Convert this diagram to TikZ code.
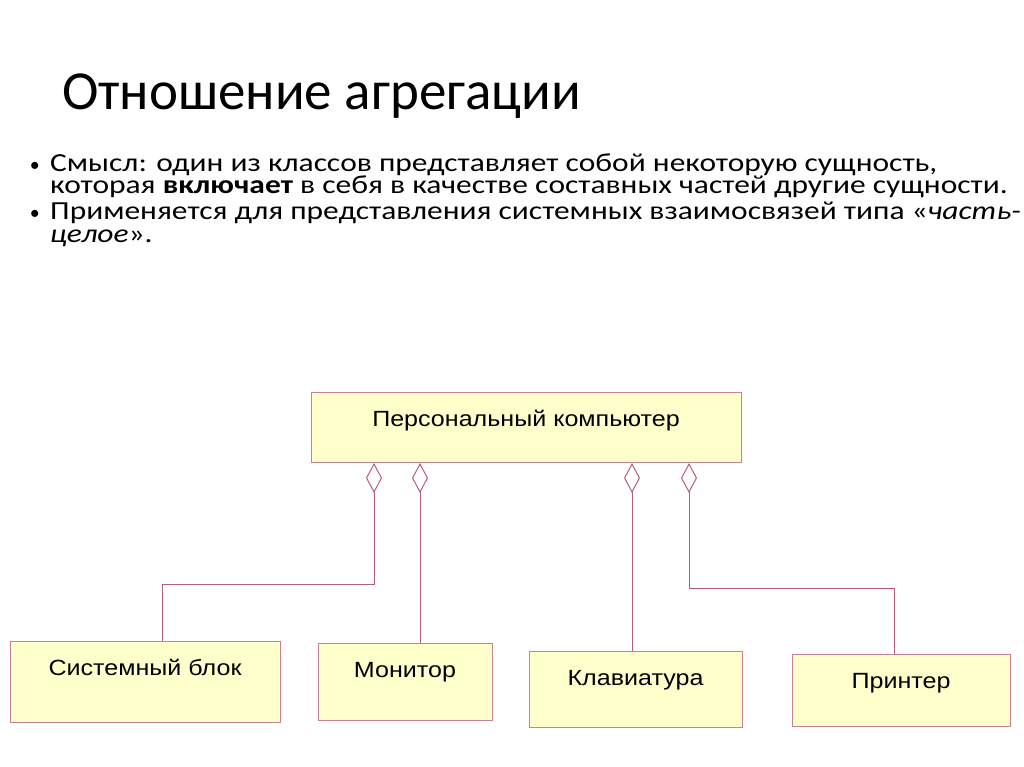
\documentclass[tikz,border=0pt]{standalone}
\usepackage{fontspec}
\setmainfont{Carlito}
\newfontfamily\bodyfont[FakeStretch=1.21]{Carlito}
\newfontfamily\boxfont[FakeStretch=1.14]{Liberation Sans}
\usepackage{tikz}
\usetikzlibrary{arrows.meta,positioning}
\definecolor{boxfill}{RGB}{255,255,204}
\definecolor{boxline}{RGB}{200,130,150}
\definecolor{aggline}{RGB}{180,95,125}

\begin{document}
\begin{tikzpicture}[x=1pt, y=-1pt,
  part/.style={rectangle, draw=boxline, fill=boxfill, line width=1pt, anchor=north, inner xsep=0pt, inner ysep=0pt, text height=34pt, font=\boxfont\fontsize{22}{24}\selectfont},
  agg/.style={draw=aggline, line width=1pt, {Diamond[open, length=30pt, width=16pt]}-},
  para/.style={anchor=base west, align=left, inner sep=0pt, font=\bodyfont\fontsize{26}{22.5}\selectfont}]

\useasboundingbox[fill=white] (0,0) rectangle (1024,767);

\node[anchor=base west, inner sep=0pt, font=\fontsize{55}{60}\selectfont] (title) at (62,110) {Отношение агрегации};

% bullets: anchor on the baseline of the last line
\node[para] (b1) at (50,194) {Смысл: один из классов представляет собой некоторую сущность,\\которая \textbf{включает} в себя в качестве составных частей другие сущности.};
\node[para] (b2) at (50,242) {Применяется для представления системных взаимосвязей типа «\textit{часть-}\\\textit{целое}».};
\node[para, anchor=base east, font=\fontsize{20}{22}\selectfont] (dot1) at (40,172) {•};
\node[para, anchor=base east, font=\fontsize{20}{22}\selectfont] (dot2) at (40,220) {•};

\node[part, text depth=36pt, minimum width=430pt] (pc) at (526,392) {Персональный компьютер};

\node[part, text depth=47pt, minimum width=270pt] (sb) at (145,641) {Системный блок};
\node[part, text depth=43pt, minimum width=174pt] (mon) at (405,643) {Монитор};
\node[part, text depth=42pt, minimum width=213pt] (kb) at (635.5,651) {Клавиатура};
\node[part, text depth=38pt, minimum width=218pt] (pr) at (901,654) {Принтер};

\coordinate (d1) at ([xshift=-152pt]pc.south);
\coordinate (d2) at ([xshift=-106pt]pc.south);
\coordinate (d3) at ([xshift=106pt]pc.south);
\coordinate (d4) at ([xshift=163pt]pc.south);

\draw[agg] (d1) -- ++(0,121) -| ([xshift=17pt]sb.north);
\draw[agg] (d2) -- (d2 |- mon.north);
\draw[agg] (d3) -- (d3 |- kb.north);
\draw[agg] (d4) -- ++(0,125) -| ([xshift=-7pt]pr.north);

\end{tikzpicture}
\end{document}
